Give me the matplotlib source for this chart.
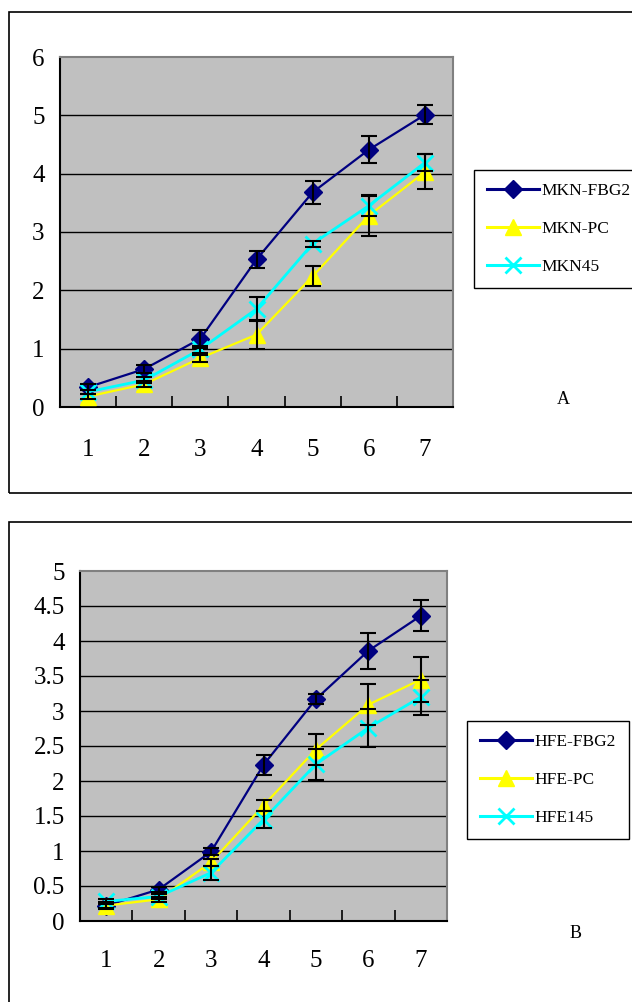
import numpy as np
import matplotlib
matplotlib.use("Agg")
from matplotlib import pyplot as plt
from matplotlib.patches import Rectangle

plt.rcParams['font.family'] = ['Liberation Serif', 'DejaVu Serif']

days = [1, 2, 3, 4, 5, 6, 7]

# panel A
mkn_fbg2 = [0.34, 0.65, 1.17, 2.53, 3.68, 4.41, 5.01]
mkn_fbg2_err = [0.05, 0.07, 0.15, 0.14, 0.20, 0.23, 0.16]
mkn_pc = [0.18, 0.39, 0.84, 1.24, 2.24, 3.28, 4.03]
mkn_pc_err = [0.04, 0.05, 0.06, 0.25, 0.17, 0.35, 0.30]
mkn45 = [0.26, 0.46, 0.99, 1.68, 2.80, 3.45, 4.19]
mkn45_err = [0.04, 0.05, 0.06, 0.20, 0.05, 0.17, 0.15]

# panel B
hfe_fbg2 = [0.22, 0.45, 0.99, 2.23, 3.17, 3.86, 4.36]
hfe_fbg2_err = [0.05, 0.04, 0.05, 0.14, 0.07, 0.26, 0.22]
hfe_pc = [0.22, 0.31, 0.84, 1.65, 2.45, 3.09, 3.45]
hfe_pc_err = [0.04, 0.04, 0.05, 0.08, 0.22, 0.29, 0.32]
hfe145 = [0.28, 0.35, 0.69, 1.45, 2.24, 2.76, 3.20]
hfe145_err = [0.04, 0.04, 0.10, 0.12, 0.22, 0.27, 0.25]

W, H = 632, 1002
fig = plt.figure(figsize=(W / 100, H / 100), dpi=100)

# outer frames
fig.patches.append(Rectangle((9 / W, 1 - 493 / H), 630 / W, 481 / H, transform=fig.transFigure,
                             fill=False, edgecolor='black', linewidth=1.2))
fig.patches.append(Rectangle((9 / W, 1 - 1010 / H), 630 / W, 488 / H, transform=fig.transFigure,
                             fill=False, edgecolor='black', linewidth=1.2))


def panel(rect, series, ymax, ystep, ylabels, legend_xy, letter_xy, letter, xpad):
    ax = fig.add_axes(rect)
    ax.set_facecolor('#C0C0C0')
    x = np.array(days)
    styles = [('#000080', 'D', 9, 1.6), ('#FFFF00', '^', 11, 1.6), ('#00FFFF', 'x', 11, 2.0)]
    handles = []
    for (name, vals, err), (col, mk, ms, lw) in zip(series, styles):
        h, = ax.plot(x, vals, color=col, marker=mk, markersize=ms, linewidth=lw,
                     markeredgewidth=2 if mk == 'x' else 1, markeredgecolor=col,
                     label=name, zorder=3)
        ax.errorbar(x, vals, yerr=err, fmt='none', ecolor='black', elinewidth=1.5,
                    capsize=6, capthick=1.5, zorder=4)
        handles.append(h)
    ax.set_xlim(0.5, 7.5)
    ax.set_ylim(0, ymax)
    ticks = np.arange(0, ymax + ystep / 2, ystep)
    ax.set_yticks(ticks)
    ax.set_yticklabels(ylabels, fontsize=18)
    ax.set_xticks(x)
    ax.set_xticklabels([str(d) for d in days], fontsize=18)
    ax.set_xticks(np.arange(1.5, 7.5, 1.0), minor=True)
    ax.tick_params(axis='x', which='major', length=0, pad=xpad)
    ax.tick_params(axis='x', which='minor', direction='in', length=8, width=1.2)
    ax.tick_params(axis='y', length=0, pad=11)
    for t in ticks[1:-1]:
        ax.axhline(t, color='black', linewidth=1.0, zorder=1)
    for s in ['left', 'bottom']:
        ax.spines[s].set_color('black')
        ax.spines[s].set_linewidth(1.5)
    for s in ['top', 'right']:
        ax.spines[s].set_color('#808080')
        ax.spines[s].set_linewidth(1.5)
    leg = fig.legend(handles=handles, loc='upper left', bbox_to_anchor=legend_xy,
                     fontsize=12.5, frameon=True, fancybox=False, framealpha=1,
                     edgecolor='black', handlelength=3.0, handletextpad=0.15,
                     labelspacing=1.25, borderpad=0.75, borderaxespad=0)
    leg.get_frame().set_linewidth(1.0)
    for ln in leg.get_lines():
        ln.set_linewidth(2.2)
    fig.text(letter_xy[0], letter_xy[1], letter, fontsize=13, ha='center', va='center')
    return ax


panel([60 / W, 1 - 407 / H, 393 / W, 350 / H],
      [('MKN-FBG2', mkn_fbg2, mkn_fbg2_err), ('MKN-PC', mkn_pc, mkn_pc_err),
       ('MKN45', mkn45, mkn45_err)],
      6, 1, ['0', '1', '2', '3', '4', '5', '6'],
      (474 / W, 1 - 170 / H), (563 / W, 1 - 399 / H), 'A', 23)

panel([80 / W, 1 - 921 / H, 367 / W, 350 / H],
      [('HFE-FBG2', hfe_fbg2, hfe_fbg2_err), ('HFE-PC', hfe_pc, hfe_pc_err),
       ('HFE145', hfe145, hfe145_err)],
      5, 0.5, ['0', '0.5', '1', '1.5', '2', '2.5', '3', '3.5', '4', '4.5', '5'],
      (467 / W, 1 - 721 / H), (576 / W, 1 - 934 / H), 'B', 21)

fig.savefig('out.png', dpi=100)
